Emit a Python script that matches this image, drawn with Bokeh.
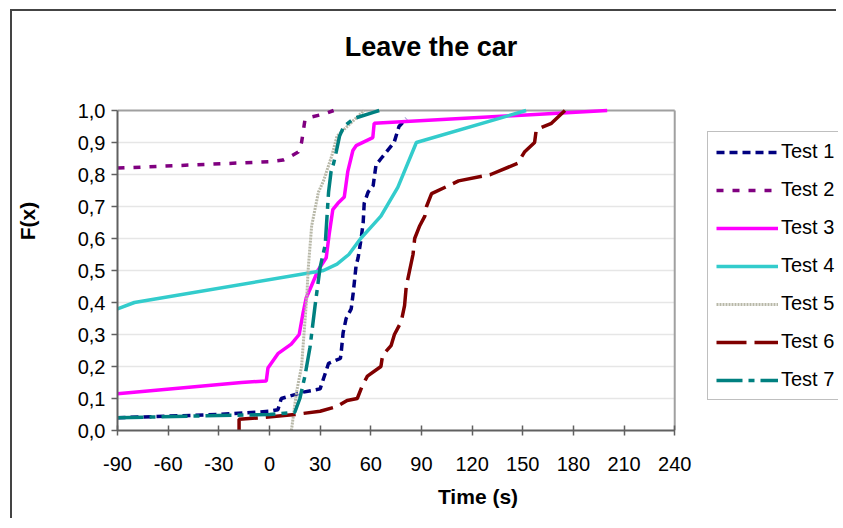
from bokeh.plotting import figure
from bokeh.models import (Legend, LegendItem, FixedTicker, CustomJSTickFormatter, Range1d, Label)
from bokeh.embed import file_html
from bokeh.resources import INLINE

# ---------------- data ----------------
t1_x = [-90, -30, 0, 5, 7, 20, 30, 35, 42, 42.5, 43.6, 45.4, 48.4, 49.6, 51.3, 52.5, 54.3, 55.5, 56.1, 58.4, 61.4, 63.1, 66.1, 73.8, 76.7, 81]
t1_y = [0.04, 0.05, 0.06, 0.065, 0.10, 0.12, 0.13, 0.21, 0.225, 0.245, 0.305, 0.35, 0.38, 0.43, 0.515, 0.54, 0.60, 0.65, 0.71, 0.745, 0.765, 0.83, 0.85, 0.90, 0.95, 0.975]

t2_x = [-90, 0, 8, 12, 17, 19, 21, 25, 33, 38]
t2_y = [0.82, 0.84, 0.845, 0.855, 0.87, 0.90, 0.97, 0.98, 0.99, 1.0]

t3_x = [-90, -16.6, -1.9, -0.9, 5, 12.9, 17.6, 19.8, 21.8, 24.7, 28.7, 33.6, 35.4, 37.5, 40.5, 44.3, 46.4, 49.4, 51.3, 61.2, 62, 200]
t3_y = [0.115, 0.15, 0.155, 0.195, 0.24, 0.27, 0.30, 0.365, 0.415, 0.45, 0.50, 0.54, 0.615, 0.69, 0.71, 0.73, 0.81, 0.875, 0.89, 0.915, 0.96, 1.0]

t4_x = [-90, -80, 32, 40, 47, 54, 60, 66, 76, 87, 152]
t4_y = [0.38, 0.40, 0.50, 0.52, 0.55, 0.60, 0.635, 0.67, 0.76, 0.90, 1.0]

t5_x = [13, 16, 19, 22, 23, 25, 29, 32, 37, 40, 50, 56]
t5_y = [0.0, 0.12, 0.20, 0.41, 0.51, 0.64, 0.745, 0.78, 0.86, 0.92, 0.97, 1.0]

t6_x = [-18, -18, -5, 15, 30, 40, 46, 52, 55, 58, 66, 67, 72, 74, 78, 80, 81, 83, 85, 86, 89, 92, 93, 96, 112, 131, 147, 151, 157, 158, 167, 175]
t6_y = [0.0, 0.035, 0.04, 0.05, 0.06, 0.075, 0.094, 0.10, 0.14, 0.17, 0.20, 0.235, 0.265, 0.30, 0.34, 0.39, 0.45, 0.50, 0.55, 0.60, 0.64, 0.67, 0.70, 0.74, 0.78, 0.80, 0.835, 0.87, 0.90, 0.94, 0.96, 1.0]

t7_x = [-90, 0, 15, 18, 21, 24, 27, 30, 33, 35, 36.5, 38, 39.5, 41.5, 44, 50, 62, 65]
t7_y = [0.04, 0.05, 0.057, 0.10, 0.17, 0.26, 0.39, 0.51, 0.58, 0.745, 0.81, 0.835, 0.87, 0.92, 0.95, 0.975, 0.995, 1.0]

labels = ["Test 1", "Test 2", "Test 3", "Test 4", "Test 5", "Test 6", "Test 7"]
x_ticks = [-90, -60, -30, 0, 30, 60, 90, 120, 150, 180, 210, 240]
y_ticks = [round(i * 0.1, 1) for i in range(11)]

FONT = "Liberation Sans"

# ---------------- layout (pixels) ----------------
W, H = 826, 509
LEFT, BOTTOM = 104, 90
PX_X = 558.0   # pixels spanned by the x-axis ticks (-90..240)
PX_Y = 320.0   # pixels spanned by the y-axis (0..1)
frame_w = W - LEFT
frame_h = H - BOTTOM
x0, x1 = x_ticks[0], x_ticks[-1]
x_end = x0 + frame_w * (x1 - x0) / PX_X
y_end = frame_h / PX_Y

p = figure(width=W, height=H, output_backend="svg", toolbar_location=None,
           x_range=Range1d(x0, x_end), y_range=Range1d(0, y_end),
           min_border_left=LEFT, min_border_right=0, min_border_top=0, min_border_bottom=BOTTOM)
p.styles = {"border-top": "2px solid #444", "border-left": "2px solid #444",
            "margin-left": "10px", "margin-top": "9px"}

# grid lines and plot-area border limited to the axis extents
p.segment(x0=[x0] * len(y_ticks[1:-1]), y0=y_ticks[1:-1], x1=[x1] * len(y_ticks[1:-1]), y1=y_ticks[1:-1],
          line_color="#e6e6e6", line_width=1.5)
p.segment(x0=[x0, x1], y0=[1.0, 0.0], x1=[x1, x1], y1=[1.0, 1.0], line_color="#a0a0a0", line_width=2)

series = [
    (t1_x, t1_y, "#000080", "8 5", 3.5),
    (t2_x, t2_y, "#800080", "7 9", 3.5),
    (t3_x, t3_y, "#ff00ff", "solid", 3.5),
    (t4_x, t4_y, "#33cccc", "solid", 3.5),
    (t5_x, t5_y, "#b8b8a8", "2 1", 3),
    (t6_x, t6_y, "#800000", "30 8", 3.5),
    (t7_x, t7_y, "#008080", "26 6 6 6", 3.5),
]
items = []
for (xs, ys, col, dash, w), lab in zip(series, labels):
    r = p.line(xs, ys, line_color=col, line_dash=dash, line_width=w)
    items.append(LegendItem(label=lab, renderers=[r]))

legend = Legend(items=items, location=(590, 30), orientation="vertical",
                label_text_font=FONT, label_text_font_size="20px", label_text_color="#000000",
                glyph_width=62, glyph_height=20, label_height=20, spacing=15,
                padding=8, margin=0, label_standoff=3,
                border_line_color="#808080", border_line_width=1.5,
                background_fill_color="white", background_fill_alpha=1)
p.add_layout(legend, "center")

title = Label(x=(x0 + x1) / 2 + 20.7, y=1.197, text="Leave the car", text_align="center",
              text_baseline="middle", text_font=FONT, text_font_style="bold",
              text_font_size="27px", text_color="#000000")
p.add_layout(title)

# axes
p.xaxis.ticker = FixedTicker(ticks=x_ticks)
p.yaxis.ticker = FixedTicker(ticks=y_ticks)
p.xaxis.bounds = (x0, x1)
p.yaxis.bounds = (0, 1)
p.xaxis.formatter = CustomJSTickFormatter(code="return tick.toFixed(0);")
p.yaxis.formatter = CustomJSTickFormatter(code="return tick.toFixed(1).replace('.', ',');")
for ax in (p.xaxis[0], p.yaxis[0]):
    ax.major_label_text_font = FONT
    ax.major_label_text_font_size = "20px"
    ax.major_label_text_color = "#000000"
    ax.axis_label_text_font = FONT
    ax.axis_label_text_font_style = "bold"
    ax.axis_label_text_font_size = "21px"
    ax.axis_label_text_color = "#000000"
    ax.minor_tick_line_color = None
    ax.axis_line_color = "#606060"
    ax.axis_line_width = 2
    ax.major_tick_line_color = "#606060"
    ax.major_tick_line_width = 1.5
p.xaxis.axis_label = "Time (s)"
p.yaxis.axis_label = "F(x)"
p.xaxis.major_tick_in = 5
p.xaxis.major_tick_out = 5
p.xaxis.major_label_standoff = 21
p.xaxis.axis_label_standoff = 11
p.yaxis.major_tick_in = 0
p.yaxis.major_tick_out = 6
p.yaxis.major_label_standoff = 6
p.yaxis.axis_label_standoff = 36

p.xgrid.grid_line_color = None
p.ygrid.grid_line_color = None
p.outline_line_color = None
p.background_fill_color = "white"
p.border_fill_color = "white"

open("out.html", "w").write(file_html(p, INLINE))
